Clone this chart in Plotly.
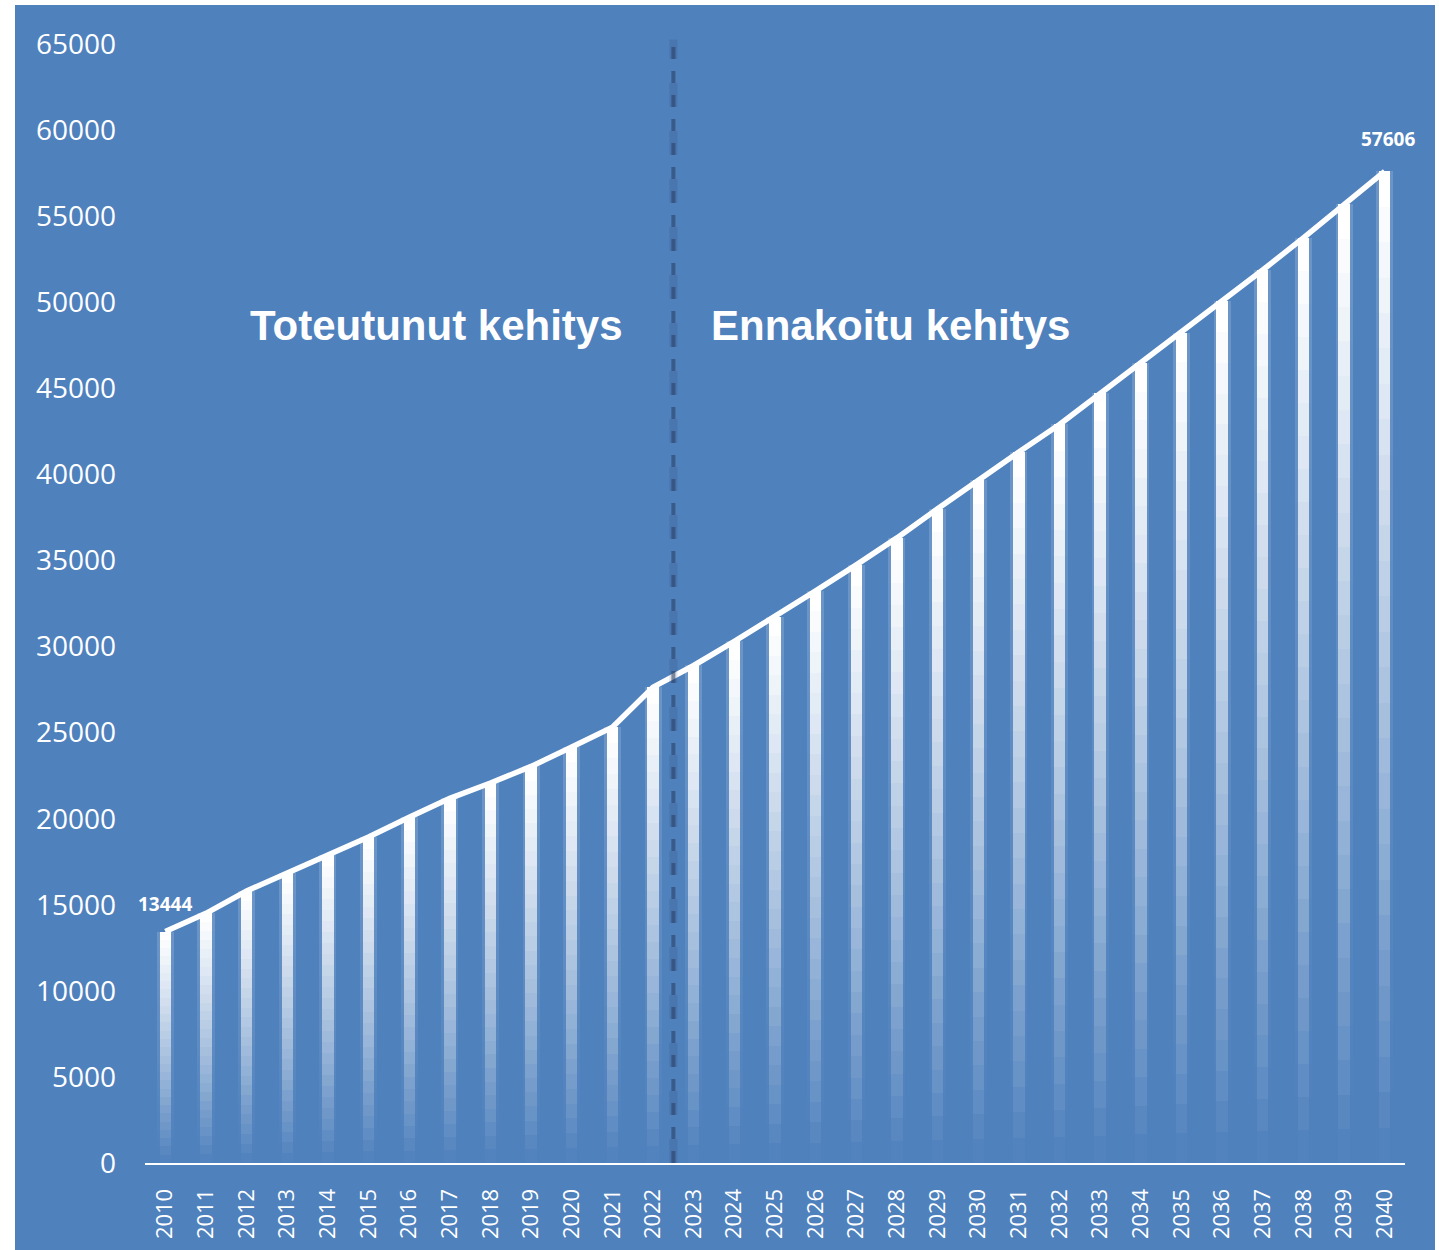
import plotly.graph_objects as go

years = [str(y) for y in range(2010, 2041)]
values = [13444, 14500, 15800, 16850, 17880, 18940, 20080, 21180, 22070, 23040,
          24160, 25320, 27640, 28900, 30300, 31730, 33230, 34740, 36310, 38000,
          39680, 41300, 42900, 44700, 46450, 48230, 50050, 51870, 53740, 55680, 57606]
y_ticks = list(range(0, 65001, 5000))
label_left = "Toteutunut kehitys"
label_right = "Ennakoitu kehitys"
split_between = ("2022", "2023")

BLUE = "#4F81BD"
W, H = 1439, 1250
ML, MR, MT, MB = 145, 34, 44, 87
PW, PH = W - ML - MR, H - MT - MB

fig = go.Figure()

N = 28
for k in range(N):
    t = (k + 0.5) / N
    a = min(1.0, t * 1.05)
    fig.add_trace(go.Bar(
        x=years, y=[v / N for v in values], base=[v * k / N for v in values],
        width=0.42, marker=dict(color=f"rgba(255,255,255,{a*0.16:.3f})", line=dict(width=0)),
        hoverinfo="skip", showlegend=False))
for k in range(N):
    t = (k + 0.5) / N
    a = min(1.0, t * 1.02)
    fig.add_trace(go.Bar(
        x=years, y=[v / N for v in values], base=[v * k / N for v in values],
        width=0.28, marker=dict(color=f"rgba(255,255,255,{a:.3f})", line=dict(width=0)),
        hoverinfo="skip", showlegend=False))

fig.add_trace(go.Scatter(x=years, y=values, mode="lines",
                         line=dict(color="white", width=5.5),
                         hoverinfo="skip", showlegend=False))

# background blue panel
fig.add_shape(type="rect", xref="paper", yref="paper",
              x0=(15 - ML) / PW, x1=(1435 - ML) / PW,
              y0=-(MB + 5) / PH, y1=(PH + MT - 5) / PH,
              fillcolor=BLUE, line=dict(width=0), layer="below")

# dashed divider
idx = years.index(split_between[0]) + 0.5
for w, op in [(8, 0.14), (4, 0.55)]:
    fig.add_shape(type="line", xref="x", yref="paper",
                  x0=idx, x1=idx, y0=0, y1=1.004,
                  line=dict(color=f"rgba(40,60,95,{op})", width=w, dash="dash"),
                  layer="above")

for txt, px in [(label_left, 436), (label_right, 890)]:
    fig.add_annotation(x=(px - ML) / PW, y=(H - MB - 325) / PH, xref="paper", yref="paper",
                       xanchor="center", yanchor="middle",
                       text=txt, showarrow=False,
                       font=dict(family="Liberation Sans, Arial", size=42, color="white", weight="bold"))

for i in (0, len(values) - 1):
    fig.add_annotation(x=i, y=values[i], xref="x", yref="y",
                       text=str(values[i]), showarrow=False,
                       xanchor="center", yanchor="middle",
                       yshift=28 if i == 0 else 32, xshift=0 if i == 0 else 3,
                       font=dict(family="Open Sans", size=19, color="white", weight="bold"))

fig.update_layout(
    width=W, height=H,
    margin=dict(l=ML, r=MR, t=MT, b=MB),
    paper_bgcolor="white", plot_bgcolor="rgba(0,0,0,0)",
    barmode="overlay", bargap=0,
    showlegend=False,
    xaxis=dict(type="category", tickangle=-90, showgrid=False, zeroline=False,
               showline=True, linecolor="white", linewidth=2,
               ticks="", ticklabelstandoff=15, automargin=False,
               tickfont=dict(family="Open Sans", size=22, color="white"),
               range=[-0.5, len(years) - 0.5]),
    yaxis=dict(range=[0, 65000], tickvals=y_ticks, tickformat="d",
               showgrid=False, zeroline=False, showline=False, ticks="",
               ticklabelstandoff=28, automargin=False,
               tickfont=dict(family="Open Sans", size=28, color="white")),
)

fig.write_html("out.html", config={"displayModeBar": False},
               post_script="document.body.style.margin='0';document.body.style.overflow='hidden';")
